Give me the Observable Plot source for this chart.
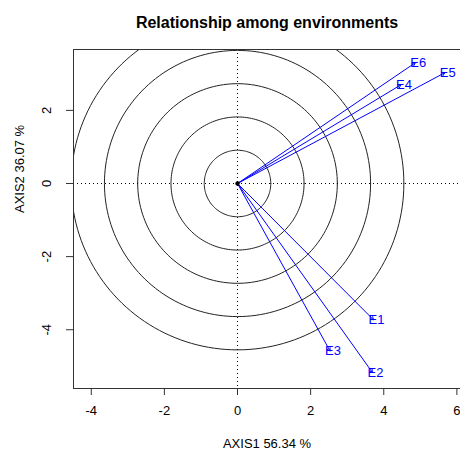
<!DOCTYPE html>
<html>
<head>
<meta charset="utf-8">
<script src="https://cdn.jsdelivr.net/npm/d3@7"></script>
<script src="https://cdn.jsdelivr.net/npm/@observablehq/plot@0.6"></script>
<style>
html, body { margin: 0; padding: 0; background: #fff; overflow: hidden; }
svg { font-family: Arial, "Liberation Sans", sans-serif; }
</style>
</head>
<body>
<div id="chart"></div>
<script>
// Environment vectors (biplot coordinates)
const envLabels = ["E1", "E2", "E3", "E4", "E5", "E6"];
const axis1 = [3.72, 3.69, 2.53, 4.47, 5.67, 4.86];
const axis2 = [-3.73, -5.17, -4.58, 2.70, 3.03, 3.30];
// Concentric reference circles (radii in axis units)
const circleRadii = [0.91, 1.82, 2.73, 3.64, 4.55];
const xTicks = [-4, -2, 0, 2, 4, 6];
const yTicks = [-4, -2, 0, 2];
const titleText = "Relationship among environments";
const xLabel = "AXIS1 56.34 %";
const yLabel = "AXIS2 36.07 %";

const envs = envLabels.map((e, i) => ({label: e, x: axis1[i], y: axis2[i]}));
const angles = d3.range(0, 361, 2);
const circlePts = circleRadii.flatMap(r => angles.map(a => ({r, x: r * Math.cos(a * Math.PI / 180), y: r * Math.sin(a * Math.PI / 180)})));

const blue = "#0000ff";
const fmt = d => String(d);
const plot = Plot.plot({
  width: 460,
  height: 455,
  marginLeft: 73,
  marginRight: 0,
  marginTop: 49,
  marginBottom: 67,
  style: {fontFamily: "Arial, 'Liberation Sans', sans-serif", fontSize: "13px", background: "#fff"},
  x: {domain: [-4.486, 6.099], ticks: xTicks},
  y: {domain: [-5.607, 3.665], ticks: yTicks},
  marks: [
    Plot.line(circlePts, {x: "x", y: "y", z: "r", stroke: "#222", strokeWidth: 1, clip: true}),
    Plot.ruleX([0], {stroke: "#000", strokeDasharray: "1,3", strokeWidth: 1}),
    Plot.ruleY([0], {stroke: "#000", strokeDasharray: "1,3", strokeWidth: 1}),
    Plot.arrow(envs, {x1: () => 0, y1: () => 0, x2: "x", y2: "y", stroke: blue, strokeWidth: 1, headLength: 5, clip: true}),
    Plot.dot([0], {x: () => 0, y: () => 0, r: 2.2, fill: "#000"}),
    Plot.text(envs, {x: "x", y: "y", text: "label", fill: blue, fontSize: 13, textAnchor: "middle", dx: 3}),
    // frame (left, top, bottom)
    Plot.ruleX([-4.486], {stroke: "#333", strokeWidth: 1}),
    Plot.ruleY([3.665], {stroke: "#333", strokeWidth: 1}),
    Plot.ruleY([-5.607], {stroke: "#333", strokeWidth: 1}),
    Plot.axisX({ticks: xTicks, tickSize: 7, tickPadding: 10, fontSize: 13, label: null, stroke: "#333", color: "#000", tickFormat: fmt}),
    Plot.axisY({ticks: yTicks, tickSize: 7, fontSize: 13, label: null, stroke: "#333", tickFormat: () => ""}),
    Plot.text(yTicks, {y: d => d, frameAnchor: "left", dx: -27, rotate: -90, text: fmt, fontSize: 13, fill: "#000", textAnchor: "middle"}),
    Plot.text([xLabel], {frameAnchor: "bottom", dy: 59, text: d => d, fontSize: 13, fill: "#000"}),
    Plot.text([yLabel], {frameAnchor: "left", dx: -54, dy: -6, rotate: -90, text: d => d, fontSize: 13, fill: "#000"}),
    Plot.text([titleText], {frameAnchor: "top", dy: -33, text: d => d, fontSize: 16, fontWeight: "bold", fill: "#000"})
  ]
});
document.getElementById("chart").appendChild(plot);
</script>
</body>
</html>
